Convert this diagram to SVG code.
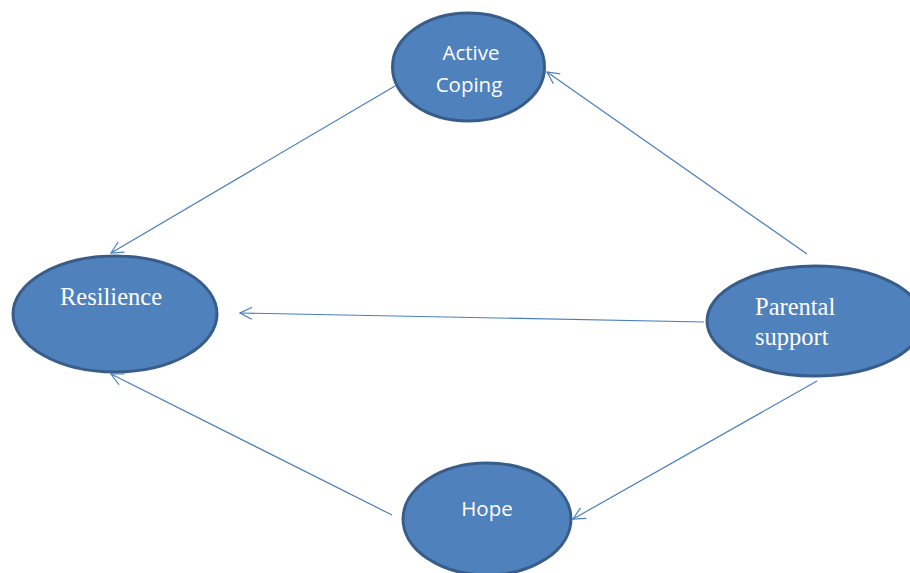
<svg xmlns="http://www.w3.org/2000/svg" width="910" height="573" viewBox="0 0 910 573">
<defs>
<style>
.node{fill:#4f81bd;stroke:#385d8a;stroke-width:3}
.sans{font-family:"Open Sans","Noto Sans",sans-serif;font-size:20.5px;fill:#fff}
.serif{font-family:"Liberation Serif","Times New Roman",serif;font-size:24.5px;fill:#fff}
.conn{stroke:#4a7ebb;stroke-width:1.2;fill:none;marker-end:url(#arr)}
</style>
<marker id="arr" viewBox="0 0 14 14" refX="13" refY="7" markerWidth="14" markerHeight="14" markerUnits="userSpaceOnUse" orient="auto">
<path d="M1,1 L13,7 L1,13" fill="none" stroke="#4a7ebb" stroke-width="1.2"/>
</marker>
</defs>
<rect width="910" height="573" fill="#fff"/>
<g id="connectors">
<line class="conn" x1="395" y1="86" x2="111" y2="253"/>
<line class="conn" x1="807" y1="254" x2="547" y2="72"/>
<line class="conn" x1="704" y1="322" x2="240" y2="313"/>
<line class="conn" x1="817" y1="381" x2="573" y2="519"/>
<line class="conn" x1="392" y1="515" x2="111" y2="374"/>
</g>
<g id="active-coping">
<ellipse class="node" cx="468.5" cy="67" rx="76" ry="54"/>
<text class="sans" x="471" y="60" text-anchor="middle">Active</text>
<text class="sans" x="469" y="92" text-anchor="middle">Coping</text>
</g>
<g id="resilience">
<ellipse class="node" cx="115" cy="314" rx="102" ry="58"/>
<text class="serif" x="111" y="305" text-anchor="middle">Resilience</text>
</g>
<g id="parental-support">
<ellipse class="node" cx="815" cy="321" rx="108" ry="55"/>
<text class="serif" x="755" y="315">Parental</text>
<text class="serif" x="755" y="345">support</text>
</g>
<g id="hope">
<ellipse class="node" cx="487" cy="519" rx="84" ry="56"/>
<text class="sans" x="487" y="516" text-anchor="middle">Hope</text>
</g>
</svg>
